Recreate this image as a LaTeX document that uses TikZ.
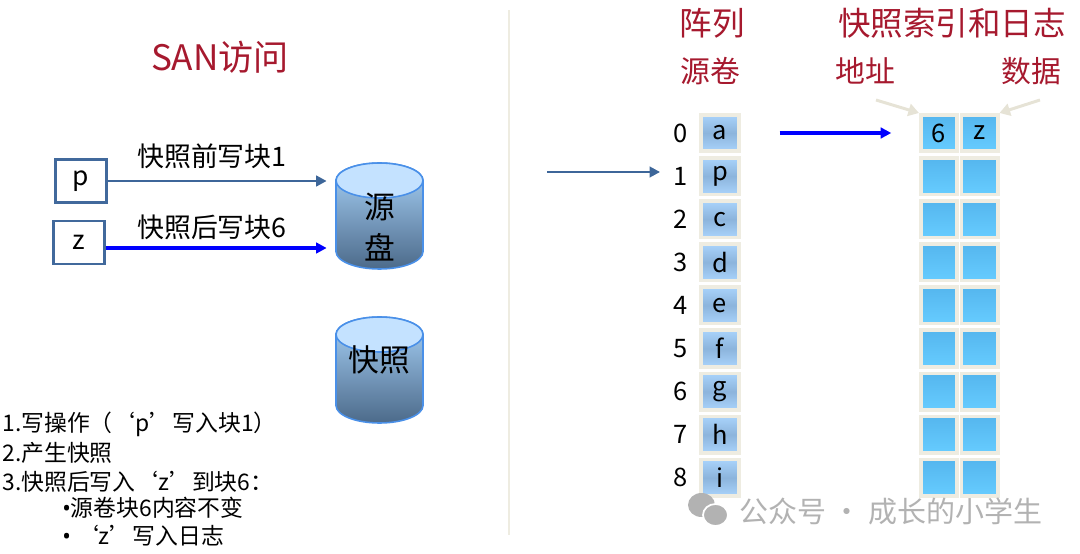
\documentclass[tikz,border=0pt]{standalone}
\usepackage{fontspec}
\setmainfont{Noto Sans CJK SC}
\newfontfamily\latinfont{Noto Sans}
\usetikzlibrary{arrows.meta}
\definecolor{titlered}{HTML}{A6192E}
\definecolor{boxblue}{HTML}{41699C}
\definecolor{wrblue}{HTML}{3D6699}
\definecolor{framegray}{HTML}{EEECE1}
\definecolor{hintgray}{HTML}{E6E3D6}
\definecolor{cyltop}{HTML}{A8D2F8}
\definecolor{cylbot}{HTML}{4C6A8A}
\definecolor{cylcap}{HTML}{C4E2FF}
\definecolor{cyledge}{HTML}{4A90E8}
\definecolor{srclight}{HTML}{A9D3FB}
\definecolor{srcmid}{HTML}{8CB4DC}
\definecolor{snaptop}{HTML}{55B6EE}
\definecolor{snapbot}{HTML}{66CCFF}
\definecolor{wmgray}{HTML}{B2B2B2}
\begin{document}
\begin{tikzpicture}[x=0.02cm, y=0.02cm]
 	\tikzstyle{every node}+=[inner sep=0pt]
 	\tikzstyle{title}=[text=titlered, font=\fontsize{20pt}{24pt}\selectfont]
 	\tikzstyle{head}=[text=titlered, font=\fontsize{18.5pt}{22pt}\selectfont]
 	\tikzstyle{sub}=[text=titlered, font=\fontsize{17pt}{20pt}\selectfont]
 	\tikzstyle{blk}=[draw=boxblue, line width=1.7pt, minimum width=1.02cm, minimum height=0.86cm, font=\fontsize{15pt}{18pt}\selectfont]
 	\tikzstyle{lbl}=[font=\fontsize{15.3pt}{18pt}\selectfont]
 	\tikzstyle{wr}=[draw=wrblue, line width=1.6pt, -{Triangle[length=6pt,width=6pt]}]
 	\tikzstyle{newwr}=[draw=blue, line width=1.8pt, -{Triangle[length=6pt,width=6pt]}]
 	\tikzstyle{hint}=[draw=hintgray, line width=1.7pt, -{Triangle[length=6pt,width=7pt]}]
 	\tikzstyle{disk}=[minimum width=1.74cm, align=center, font=\fontsize{17.5pt}{23pt}\selectfont]
 	\tikzstyle{idx}=[font=\fontsize{14.5pt}{17pt}\selectfont]
 	\tikzstyle{srccell}=[draw=framegray, line width=2pt, minimum width=0.77cm, minimum height=0.73cm, top color=srclight, bottom color=srclight, middle color=srcmid, font=\fontsize{14.5pt}{17pt}\selectfont]
 	\tikzstyle{snapcell}=[draw=framegray, line width=2pt, minimum width=0.73cm, minimum height=0.73cm, top color=snaptop, bottom color=snapbot, font=\fontsize{14.5pt}{17pt}\selectfont]
 	\tikzstyle{note}=[anchor=west, font=\fontsize{13pt}{16pt}\selectfont]
 	\useasboundingbox (0,0) rectangle (1080,-554);
 	% left half: SAN access
 	\node [title] (san) at (220,-57) {SAN访问};
 	\node [blk] (p) at (81,-181) {p};
 	\node [blk] (z) at (79,-242.5) {z};
 	\shadedraw [top color=cyltop, bottom color=cylbot, draw=cyledge, line width=0.9pt] (336,-180.5) -- (336,-251.5) arc [start angle=180, end angle=360, x radius=43.5, y radius=17.5] -- (423,-180.5) arc [start angle=0, end angle=180, x radius=43.5, y radius=17.5] -- cycle;
 	\filldraw [fill=cylcap, draw=cyledge, line width=0.9pt] (379.5,-180.5) ellipse [x radius=43.5, y radius=17.5];
 	\node [disk] (src) at (379.5,-227) {源\\盘};
 	\shadedraw [top color=cyltop, bottom color=cylbot, draw=cyledge, line width=0.9pt] (336,-334.5) -- (336,-405.5) arc [start angle=180, end angle=360, x radius=43.5, y radius=17.5] -- (423,-334.5) arc [start angle=0, end angle=180, x radius=43.5, y radius=17.5] -- cycle;
 	\filldraw [fill=cylcap, draw=cyledge, line width=0.9pt] (379.5,-334.5) ellipse [x radius=43.5, y radius=17.5];
 	\node [disk] (snap) at (379.5,-360) {快照};
 	\draw [wr, shorten >=0.18cm] (p.east) -- (p.east -| src.west);
 	\draw (212,-156.5) node [lbl] {快照前写块1};
 	\draw [newwr, shorten >=0.18cm] (z.east |- 0,-248) -- (src.west |- 0,-248);
 	\draw (212,-227.5) node [lbl] {快照后写块6};
 	\node [note] (l1) at (2,-424) {1.写操作（‘p’写入块1）};
 	\node [note] (l2) at (2,-453) {2.产生快照};
 	\node [note] (l3) at (2,-482) {3.快照后写入‘z’到块6：};
 	\node [note] (l4) at (62,-508) {{\latinfont •}源卷块6内容不变};
 	\node [note] (l5) at (62,-536) {{\latinfont •}\ ‘z’写入日志};
 	% separator
 	\draw [framegray, line width=1.7pt] (509,-10) -- (509,-535);
 	% right half: array and snapshot log
 	\node [head] (arr) at (712,-23) {阵列};
 	\node [head] (idxlog) at (952,-23) {快照索引和日志};
 	\node [sub] (vol) at (710,-71) {源卷};
 	\node [sub] (addr) at (865,-71) {地址};
 	\node [sub] (data) at (1031,-71) {数据};
 	\foreach \i/\v in {0/a,1/p,2/c,3/d,4/e,5/f,6/g,7/h,8/i} {
 		\node [idx] (n\i) at (681,-133-43.1*\i) {\i};
 		\node [srccell] (s\i) at (720,-133-43.1*\i) {\v};
 		\node [snapcell] (d\i) at (939,-133-43.1*\i) {\ifnum\i=0 6\fi};
 		\node [snapcell] (e\i) at (979.5,-133-43.1*\i) {\ifnum\i=0 z\fi};
 	}
 	\coordinate (host) at (547,-172);
 	\draw [wr, shorten >=0.27cm] (host) -- (host -| n1.west);
 	\draw [newwr, shorten <=0.775cm, shorten >=0.555cm] (s0.east) -- (d0.west);
 	\coordinate (a1) at (876,-100);
 	\coordinate (a2) at (1040,-100);
 	\draw [hint] (a1) -- (d0.north west);
 	\draw [hint] (a2) -- (e0.north east);
 	% watermark
 	\fill [wmgray] (701.5,-505) ellipse [x radius=13.5, y radius=12];
 	\filldraw [fill=wmgray, draw=white, line width=1pt] (715.5,-515) ellipse [x radius=12.5, y radius=11];
 	\node [text=wmgray, font=\fontsize{16.5pt}{20pt}\selectfont] (wm) at (891,-511) {公众号 · 成长的小学生};
\end{tikzpicture}
\end{document}
